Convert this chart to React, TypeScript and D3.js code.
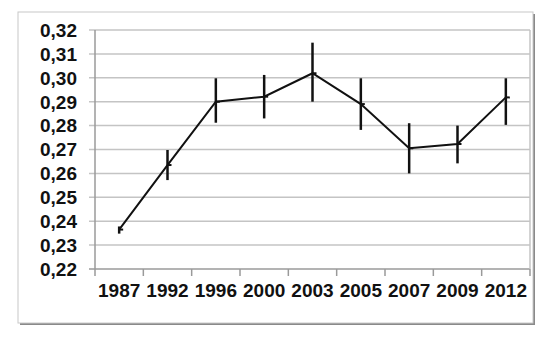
import React from "react";
import * as d3 from "d3";

const years = ["1987", "1992", "1996", "2000", "2003", "2005", "2007", "2009", "2012"];
const values = [0.2365, 0.2635, 0.290, 0.2921, 0.3019, 0.289, 0.2705, 0.2723, 0.2918];
const errLow = [0.2348, 0.2572, 0.2812, 0.283, 0.290, 0.2782, 0.260, 0.2642, 0.2803];
const errHigh = [0.2378, 0.2698, 0.2998, 0.3012, 0.3147, 0.2998, 0.281, 0.280, 0.2998];
const yTicks = [0.22, 0.23, 0.24, 0.25, 0.26, 0.27, 0.28, 0.29, 0.30, 0.31, 0.32];

export default function App() {
  const W = 553, H = 349;
  const left = 95, right = 530, top = 30, bottom = 269;
  const x = d3.scaleBand<string>().domain(years).range([left, right]).padding(0);
  const y = d3.scaleLinear().domain([0.22, 0.32]).range([bottom, top]);
  const cx = (i: number) => (x(years[i]) as number) + x.bandwidth() / 2;
  const line = d3.line<number>().x((_, i) => cx(i)).y((d) => y(d));
  const fmt = (v: number) => v.toFixed(2).replace(".", ",");
  const font = "Arial, 'Liberation Sans', sans-serif";
  const fs = 19;
  return (
    <svg width={W} height={H} style={{ position: "absolute", left: 0, top: 0, background: "#fff" }}>
      {/* outer frame with shadow */}
      <rect x={20} y={14} width={515} height={311} fill="#8a8a8a" />
      <rect x={18} y={12} width={515} height={311} fill="#fff" stroke="#c8c8c8" strokeWidth={1} />
      {/* gridlines */}
      {yTicks.map((t) => (
        <line key={t} x1={left - 6} x2={right} y1={y(t)} y2={y(t)} stroke={t === 0.22 ? "#9a9a9a" : "#c4c4c4"} strokeWidth={1.5} />
      ))}
      {/* plot right border */}
      <line x1={right} x2={right} y1={top} y2={bottom} stroke="#c4c4c4" strokeWidth={1.5} />
      {/* y axis */}
      <line x1={left} x2={left} y1={top} y2={bottom} stroke="#9a9a9a" strokeWidth={1.5} />
      {/* x ticks */}
      {years.map((yr) => (
        <line key={yr} x1={x(yr) as number} x2={x(yr) as number} y1={bottom} y2={bottom + 7} stroke="#9a9a9a" strokeWidth={1.5} />
      ))}
      <line x1={right} x2={right} y1={bottom} y2={bottom + 7} stroke="#9a9a9a" strokeWidth={1.5} />
      {/* y labels */}
      {yTicks.map((t) => (
        <text key={t} x={77} y={y(t)} dy="0.36em" textAnchor="end" fontFamily={font} fontWeight="bold" fontSize={fs} fill="#111">
          {fmt(t)}
        </text>
      ))}
      {/* x labels */}
      {years.map((yr, i) => (
        <text key={yr} x={cx(i)} y={297} textAnchor="middle" fontFamily={font} fontWeight="bold" fontSize={fs} fill="#111">
          {yr}
        </text>
      ))}
      {/* line */}
      <path d={line(values) || ""} fill="none" stroke="#111" strokeWidth={2} />
      {/* error bars */}
      {values.map((v, i) => (
        <g key={i}>
          <line x1={cx(i)} x2={cx(i)} y1={y(errLow[i])} y2={y(errHigh[i])} stroke="#111" strokeWidth={2.5} />
          <line x1={cx(i)} x2={cx(i) + 4} y1={y(v)} y2={y(v)} stroke="#111" strokeWidth={2} />
        </g>
      ))}
    </svg>
  );
}
